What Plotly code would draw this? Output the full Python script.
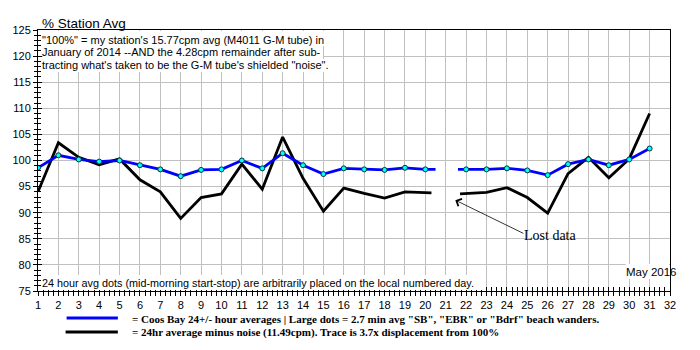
import plotly.graph_objects as go

# ---------------- data ----------------
blue_days = list(range(1, 21)) + list(range(22, 32))
blue_vals = [98.6, 101.0, 100.2, 99.8, 100.0, 99.1, 98.3, 97.0, 98.2, 98.3,
             100.0, 98.5, 101.4, 99.1, 97.4, 98.5, 98.3, 98.2, 98.6, 98.3,
             98.3, 98.3, 98.5, 98.1, 97.2, 99.3, 100.2, 99.1, 100.2, 102.3]
black_vals = [94.0, 103.4, 100.6, 99.2, 100.3, 96.3, 94.0, 88.9, 92.9, 93.6,
              99.3, 94.5, 104.5, 96.6, 90.3, 94.7, 93.7, 92.8, 94.0, 93.8,
              93.7, 93.9, 94.8, 92.9, 89.9, 97.5, 100.6, 96.7, 100.3, 109.0]
# line stubs drawn at the edges of the lost-data gap (day, value)
blue_gap_edges = [(20.5, 98.3), (21.6, 98.3)]
black_gap_edges = [(20.3, 93.8), (21.7, 93.6)]
x_ticks = list(range(1, 33))
y_ticks = list(range(75, 126, 5))

# ---------------- geometry helpers ----------------
W, H = 700, 350
L, R, T, B = 29, 30, 30, 59
PW, PH = W - L - R, H - T - B
X0, X1, Y0, Y1 = 1, 32, 75, 125


def xp(px):
    return (px - L) / PW


def yp(py):
    return (H - B - py) / PH


def with_gap(days, vals, edges):
    xs, ys = [], []
    for d, v in zip(days, vals):
        if d == 22:
            xs += [edges[0][0], None, edges[1][0]]
            ys += [edges[0][1], None, edges[1][1]]
        xs.append(d)
        ys.append(v)
    return xs, ys


bx, by = with_gap(blue_days, blue_vals, blue_gap_edges)
kx, ky = with_gap(blue_days, black_vals, black_gap_edges)

fig = go.Figure()
fig.add_trace(go.Scatter(x=kx, y=ky, mode="lines",
                         line=dict(color="black", width=2.8),
                         showlegend=False, hoverinfo="skip"))
fig.add_trace(go.Scatter(x=bx, y=by, mode="lines",
                         line=dict(color="#0000FF", width=2.8),
                         showlegend=False, hoverinfo="skip",
                         xaxis="x2", yaxis="y2"))
fig.add_trace(go.Scatter(x=blue_days, y=blue_vals, mode="markers",
                         marker=dict(color="#00FFFF", size=5,
                                     line=dict(color="#003838", width=1)),
                         showlegend=False, hoverinfo="skip",
                         xaxis="x2", yaxis="y2"))

FONT = "Liberation Sans"
tickfont = dict(family=FONT, size=11, color="black")

fig.update_layout(
    width=W, height=H,
    margin=dict(l=L, r=R, t=T, b=B, pad=0),
    paper_bgcolor="white", plot_bgcolor="white",
    xaxis=dict(range=[X0, X1], tickvals=x_ticks, ticktext=[str(v) for v in x_ticks],
               showgrid=True, gridcolor="#c0c0c0", gridwidth=1,
               showline=True, linecolor="black", linewidth=1, mirror=True,
               ticks="outside", ticklen=4, tickcolor="black", tickwidth=1,
               minor=dict(dtick=0.25, tick0=1, ticks="outside", ticklen=4,
                          tickcolor="black", showgrid=False),
               tickfont=tickfont, zeroline=False, fixedrange=True),
    yaxis=dict(range=[Y0, Y1], tickvals=y_ticks, ticktext=[str(v) for v in y_ticks],
               showgrid=True, gridcolor="#c0c0c0", gridwidth=1,
               showline=True, linecolor="black", linewidth=1, mirror=True,
               ticks="outside", ticklen=4, tickcolor="black", tickwidth=1,
               minor=dict(dtick=1, tick0=75, ticks="outside", ticklen=3,
                          tickcolor="black", showgrid=False),
               tickfont=tickfont, zeroline=False, fixedrange=True),
    xaxis2=dict(range=[X0, X1], overlaying="x", anchor="y", side="bottom",
                tickvals=x_ticks, showticklabels=False, showgrid=False,
                showline=False, ticks="inside", ticklen=4, tickcolor="black",
                minor=dict(dtick=0.25, tick0=1, ticks="inside", ticklen=4,
                           tickcolor="black", showgrid=False),
                zeroline=False, fixedrange=True),
    yaxis2=dict(range=[Y0, Y1], overlaying="y", anchor="x", side="left",
                tickvals=y_ticks, showticklabels=False, showgrid=False,
                showline=False, ticks="inside", ticklen=4, tickcolor="black",
                minor=dict(dtick=1, tick0=75, ticks="inside", ticklen=3,
                           tickcolor="black", showgrid=False),
                zeroline=False, fixedrange=True),
)

# opaque text backgrounds hiding the grid (no data lies in these areas)
bg_boxes = [(34, 330, 31, 46), (34, 318, 46, 59), (34, 330, 59, 72),
            (34, 482, 275, 290), (625, 669, 264, 279)]
for x_a, x_b, y_a, y_b in bg_boxes:
    fig.add_shape(type="rect", xref="paper", yref="paper", layer="above",
                  x0=xp(x_a), x1=xp(x_b), y0=yp(y_b), y1=yp(y_a),
                  fillcolor="white", line=dict(width=0))

ann = []
ann.append(dict(text="% Station Avg", xref="paper", yref="paper",
                x=xp(31), y=yp(23), xanchor="left", yanchor="middle",
                showarrow=False, font=dict(family=FONT, size=13.5, color="black")))
top_lines = ["\"100%\" = my station's 15.77cpm avg (M4011 G-M tube) in",
             "January of 2014 --AND the 4.28cpm remainder after sub-",
             "tracting what's taken to be the G-M tube's shielded \"noise\"."]
for i, t in enumerate(top_lines):
    ann.append(dict(text=t, xref="paper", yref="paper",
                    x=xp(31), y=yp(40 + 12.5 * i), xanchor="left", yanchor="middle",
                    showarrow=False,
                    font=dict(family=FONT, size=11, color="black")))
ann.append(dict(text="24 hour avg dots (mid-morning start-stop) are arbitrarily placed on the local numbered day.",
                xref="paper", yref="paper", x=xp(31), y=yp(283), xanchor="left",
                yanchor="middle", showarrow=False,
                font=dict(family=FONT, size=10.8, color="black")))
ann.append(dict(text="May 2016", xref="paper", yref="paper", x=xp(623), y=yp(271.5),
                xanchor="left", yanchor="middle", showarrow=False,
                font=dict(family=FONT, size=11.5, color="black")))
ann.append(dict(text="", x=21.47, y=92.4, xref="x", yref="y",
                ax=24.88, ay=85.9, axref="x", ayref="y",
                showarrow=True, arrowhead=4, arrowsize=2, arrowwidth=0.8,
                arrowcolor="black"))
ann.append(dict(text="Lost data", xref="x", yref="y", x=24.75, y=85.6,
                xanchor="left", yanchor="middle", showarrow=False,
                font=dict(family="Liberation Serif", size=14, color="black")))
ann.append(dict(text="= Coos Bay 24+/- hour averages | Large dots = 2.7 min avg \"SB\", \"EBR\" or \"Bdrf\" beach wanders.",
                xref="paper", yref="paper", x=xp(122), y=yp(318.5), xanchor="left",
                yanchor="middle", showarrow=False,
                font=dict(family="Liberation Serif", size=11, color="black", weight="bold")))
ann.append(dict(text="= 24hr average minus noise (11.49cpm). Trace is 3.7x displacement from 100%",
                xref="paper", yref="paper", x=xp(122), y=yp(332.5), xanchor="left",
                yanchor="middle", showarrow=False,
                font=dict(family="Liberation Serif", size=11, color="black", weight="bold")))
fig.update_layout(annotations=ann)

fig.add_shape(type="line", xref="paper", yref="paper", x0=xp(58), x1=xp(110),
              y0=yp(318), y1=yp(318), line=dict(color="#0000FF", width=3))
fig.add_shape(type="line", xref="paper", yref="paper", x0=xp(57), x1=xp(110),
              y0=yp(332), y1=yp(332), line=dict(color="black", width=3))

fig.write_html("out.html")
